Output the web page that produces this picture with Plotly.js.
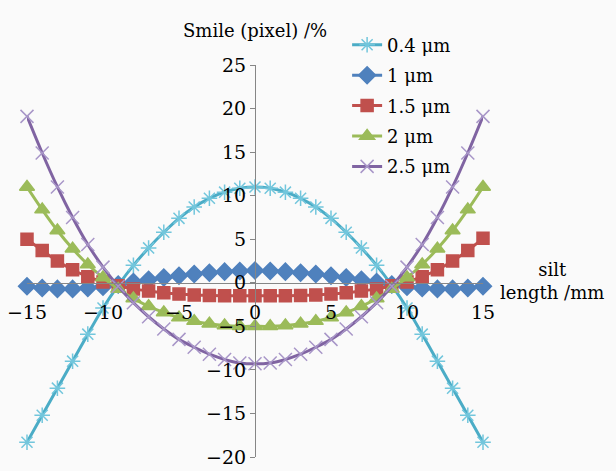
<!DOCTYPE html>
<html>
<head>
<meta charset="utf-8">
<script src="https://cdn.plot.ly/plotly-3.0.1.min.js"></script>
<style>html,body{margin:0;padding:0;background:#fafafa;}#chart{width:616px;height:471px;}</style>
</head>
<body>
<div id="chart"></div>
<script>
var slitLength = [-15,-14,-13,-12,-11,-10,-9,-8,-7,-6,-5,-4,-3,-2,-1,0,1,2,3,4,5,6,7,8,9,10,11,12,13,14,15];
var seriesNames = ['0.4 μm','1 μm','1.5 μm','2 μm','2.5 μm'];
var smile04 = [-18.3,-15.2,-12.1,-9.0,-5.9,-2.9,-0.3,2.0,4.0,5.8,7.4,8.7,9.7,10.4,10.85,11.0,10.85,10.4,9.7,8.7,7.4,5.8,4.0,2.0,-0.3,-2.9,-5.9,-9.0,-12.1,-15.2,-18.3];
var smile1 = [-0.4,-0.6,-0.7,-0.7,-0.6,-0.45,-0.2,0.1,0.35,0.6,0.8,1.0,1.15,1.28,1.36,1.4,1.36,1.28,1.15,1.0,0.8,0.6,0.35,0.1,-0.2,-0.45,-0.6,-0.7,-0.7,-0.6,-0.4];
var smile15 = [5.0,3.7,2.5,1.5,0.7,0.1,-0.35,-0.7,-0.95,-1.15,-1.3,-1.4,-1.45,-1.5,-1.5,-1.5,-1.5,-1.5,-1.45,-1.4,-1.3,-1.15,-0.95,-0.7,-0.35,0.1,0.7,1.5,2.5,3.7,5.1];
var smile2 = [11.0,8.4,6.0,3.9,2.1,0.6,-0.7,-1.8,-2.7,-3.4,-4.0,-4.4,-4.7,-4.9,-5.0,-5.0,-5.0,-4.9,-4.7,-4.4,-4.0,-3.4,-2.7,-1.8,-0.7,0.6,2.1,3.9,6.0,8.4,11.0];
var smile25 = [19.1,14.9,11.0,7.5,4.4,1.8,-0.4,-2.3,-3.9,-5.3,-6.5,-7.4,-8.2,-8.8,-9.2,-9.3,-9.2,-8.8,-8.2,-7.4,-6.5,-5.3,-3.9,-2.3,-0.4,1.8,4.4,7.5,11.0,14.9,19.1];
var xTickVals = [-15,-10,-5,0,5,10,15];
var xTickText = ['\u221215','\u221210','\u22125','0','5','10','15'];
var yTickVals = [-20,-15,-10,-5,0,5,10,15,20,25];
var yTickText = ['\u221220','\u221215','\u221210','\u22125','0','5','10','15','20','25'];

var FONT = 'DejaVu Serif';
var FS = 18;
var TFS = 19;
var seriesData = [smile04, smile1, smile15, smile2, smile25];
var lineColors = ['#4bacc6','#4f81bd','#c0504d','#9bbb59','#8064a2'];
var markerColors = ['#72c6dc','#4f81bd','#c0504d','#9bbb59','#a896c8'];
var symbols = ['asterisk-open','diamond','square','triangle-up','x-thin-open'];
var sizes = [13,13,12,13,13];

var traces = seriesData.map(function(vals, i){
  return {
    x: slitLength, y: vals, name: seriesNames[i], type: 'scatter', mode: 'lines+markers',
    legendgroup: 'g' + i,
    cliponaxis: false,
    line: {color: lineColors[i], width: 3, shape: 'spline', smoothing: 0.8},
    marker: {symbol: symbols[i], size: sizes[i], color: markerColors[i], line: {width: 1.5, color: markerColors[i]}}
  };
});

var layout = {
  width: 616, height: 471,
  margin: {l: 27, r: 133, t: 65, b: 14, pad: 0},
  paper_bgcolor: '#fafafa', plot_bgcolor: '#fafafa',
  font: {family: FONT, size: FS, color: '#000'},
  showlegend: true,
  legend: {x: 0.702, xanchor: 'left', y: 1.098, yanchor: 'top', tracegroupgap: 4, bgcolor: 'rgba(0,0,0,0)', font: {family: FONT, size: FS, color: '#000'}},
  xaxis: {
    range: [-15, 15], anchor: 'free', position: 20/45,
    showline: true, linecolor: '#868686', linewidth: 1,
    showgrid: false, zeroline: false, ticks: '',
    tickmode: 'array', tickvals: xTickVals, ticktext: xTickText,
    ticklabelstandoff: 12, tickfont: {family: FONT, size: TFS, color: '#000'}
  },
  yaxis: {
    range: [-20, 25], anchor: 'free', position: 0.5,
    showline: true, linecolor: '#868686', linewidth: 1,
    showgrid: false, zeroline: false, ticks: 'outside', ticklen: 5, tickcolor: '#868686',
    tickmode: 'array', tickvals: yTickVals, ticktext: yTickText,
    tickfont: {family: FONT, size: TFS, color: '#000'}
  },
  annotations: [
    {text: 'Smile (pixel) /%', xref: 'x', yref: 'paper', x: 0, y: 1, xanchor: 'center', yanchor: 'bottom', yshift: 22, showarrow: false, font: {family: FONT, size: FS, color: '#000'}},
    {text: 'silt<br>length /mm', xref: 'paper', yref: 'y', x: 1.151, y: 0, xanchor: 'center', yanchor: 'middle', yshift: 2, showarrow: false, font: {family: FONT, size: FS, color: '#000'}}
  ]
};

Plotly.newPlot('chart', traces, layout, {displayModeBar: false, staticPlot: true});
</script>
</body>
</html>
